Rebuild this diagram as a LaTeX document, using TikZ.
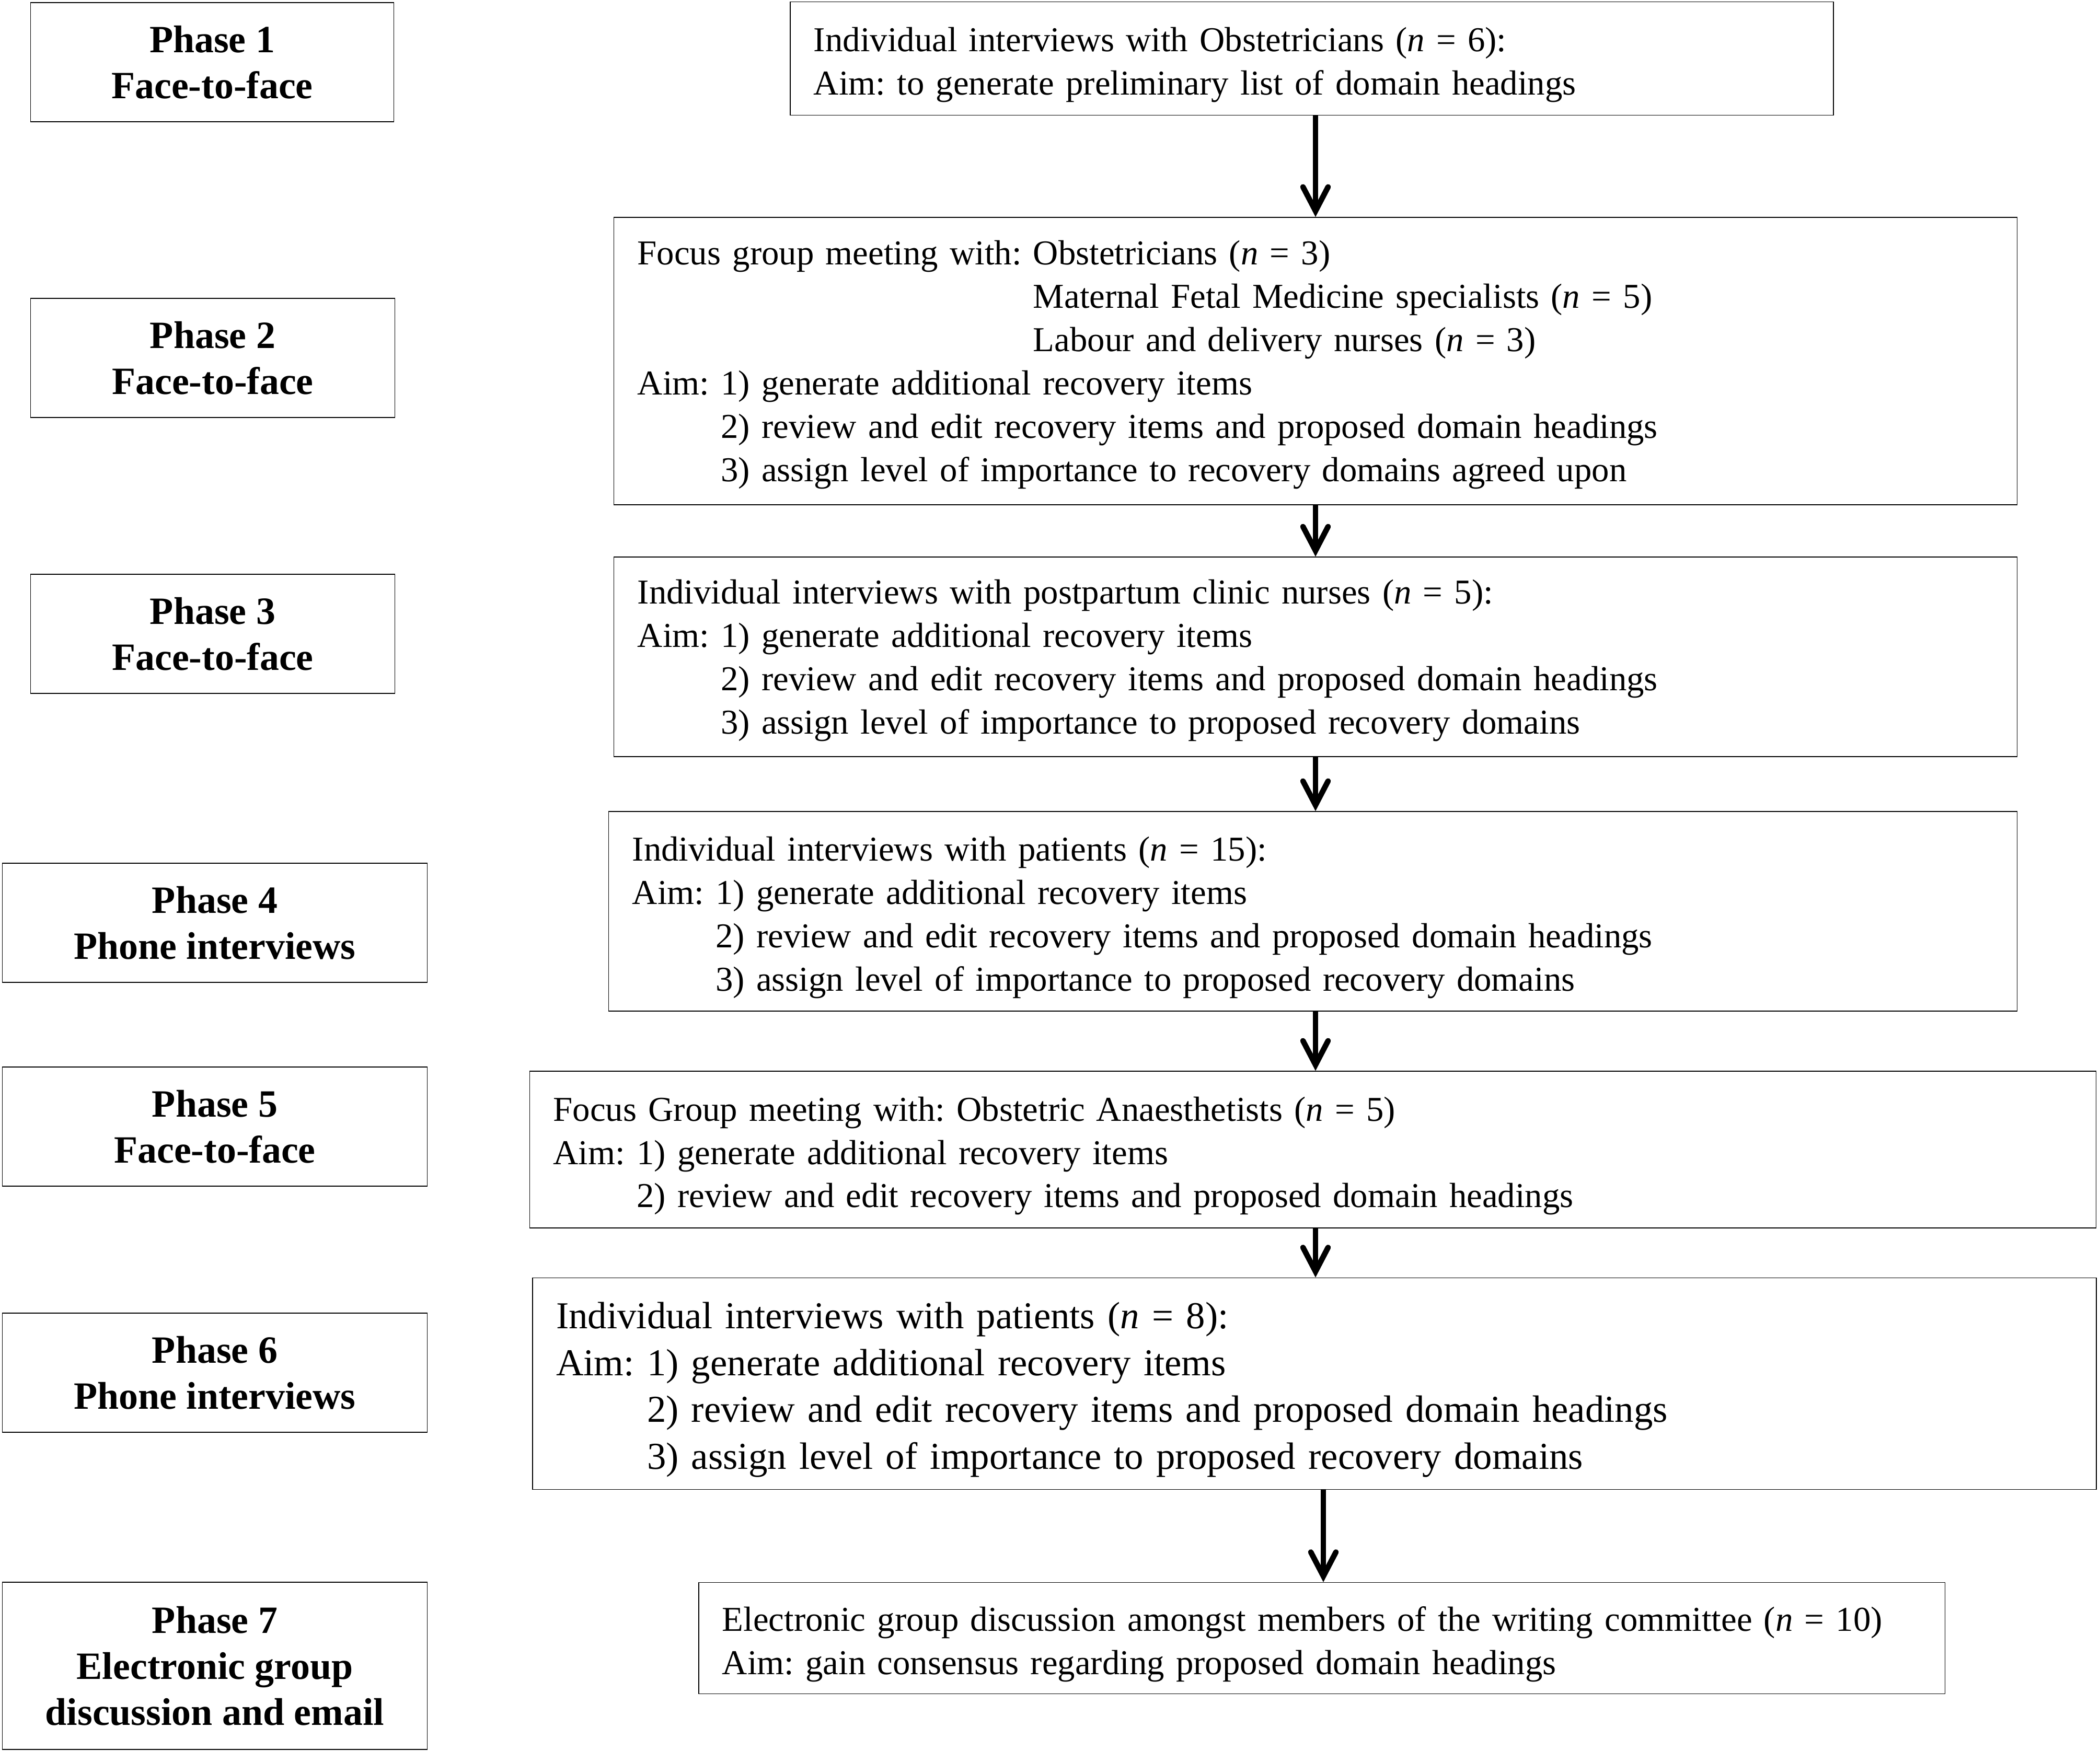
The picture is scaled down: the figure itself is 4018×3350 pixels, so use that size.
\documentclass[tikz,border=0pt]{standalone}
\usepackage{fontspec}
\setmainfont{Liberation Serif}
\frenchspacing
\usetikzlibrary{arrows.meta, positioning}
\newcommand{\aimpad}{\phantom{Aim: }}
\newcommand{\withpad}{\phantom{Focus group meeting with: }}
\tikzset{
	line width = 1.2pt,
	>={Straight Barb[length=4.6mm, width=4.8mm, line cap=round]},
	phase box/.style={
		draw,
		align=center,
		inner sep=0pt,
		font=\fontsize{21}{25}\selectfont\bfseries
	},
	task box/.style={
		draw,
		align=left,
		inner xsep=.45cm,
		inner ysep=0pt,
		text height=20pt,
		font=\fontsize{19}{23.6}\selectfont
	},
	flow/.style={
		->,
		line width=3pt
	}
}

\begin{document}
\begin{tikzpicture}[x=.01cm, y=-.01cm]
	\useasboundingbox (0,0) rectangle (4018,3350);

	% phases on the left
	\node[phase box, minimum width=6.95cm, minimum height=2.28cm] (p1) at (406,119) {Phase 1\\Face-to-face};
	\node[phase box, minimum width=6.97cm, minimum height=2.28cm] (p2) at (407,685) {Phase 2\\Face-to-face};
	\node[phase box, minimum width=6.97cm, minimum height=2.28cm] (p3) at (407,1213) {Phase 3\\Face-to-face};
	\node[phase box, minimum width=8.12cm, minimum height=2.28cm] (p4) at (411,1766) {Phase 4\\Phone interviews};
	\node[phase box, minimum width=8.12cm, minimum height=2.28cm] (p5) at (411,2156) {Phase 5\\Face-to-face};
	\node[phase box, minimum width=8.12cm, minimum height=2.28cm] (p6) at (411,2627) {Phase 6\\Phone interviews};
	\node[phase box, minimum width=8.12cm, minimum height=3.2cm] (p7) at (411,3188) {Phase 7\\Electronic group\\discussion and email};

	% what each phase did
	\node[task box, text width=19.05cm, minimum height=2.17cm] (r1) at (2510,112) {Individual interviews with Obstetricians (\textit{n} = 6):\\
		Aim: to generate preliminary list of domain headings};
	\node[task box, text width=25.93cm, minimum height=5.5cm, text height=17pt] (r2) at (2517,691) {Focus group meeting with: Obstetricians (\textit{n} = 3)\\
		\withpad Maternal Fetal Medicine specialists (\textit{n} = 5)\\
		\withpad Labour and delivery nurses (\textit{n} = 3)\\
		Aim: 1) generate additional recovery items\\
		\aimpad 2) review and edit recovery items and proposed domain headings\\
		\aimpad 3) assign level of importance to recovery domains agreed upon};
	\node[task box, text width=25.93cm, minimum height=3.82cm, text height=17pt] (r3) at (2517,1257) {Individual interviews with postpartum clinic nurses (\textit{n} = 5):\\
		Aim: 1) generate additional recovery items\\
		\aimpad 2) review and edit recovery items and proposed domain headings\\
		\aimpad 3) assign level of importance to proposed recovery domains};
	\node[task box, text width=26.03cm, minimum height=3.82cm] (r4) at (2512,1744) {Individual interviews with patients (\textit{n} = 15):\\
		Aim: 1) generate additional recovery items\\
		\aimpad 2) review and edit recovery items and proposed domain headings\\
		\aimpad 3) assign level of importance to proposed recovery domains};
	\node[task box, text width=29.05cm, minimum height=3cm] (r5) at (2512,2200) {Focus Group meeting with: Obstetric Anaesthetists (\textit{n} = 5)\\
		Aim: 1) generate additional recovery items\\
		\aimpad 2) review and edit recovery items and proposed domain headings};
	\node[task box, text width=29cm, minimum height=4.05cm, text height=21pt, font=\fontsize{20.7}{25.5}\selectfont] (r6) at (2515,2648) {Individual interviews with patients (\textit{n} = 8):\\
		Aim: 1) generate additional recovery items\\
		\aimpad 2) review and edit recovery items and proposed domain headings\\
		\aimpad 3) assign level of importance to proposed recovery domains};
	\node[task box, text width=22.93cm, minimum height=2.13cm] (r7) at (2529,3135) {Electronic group discussion amongst members of the writing committee (\textit{n} = 10)\\
		Aim: gain consensus regarding proposed domain headings};

	% arrows
	\coordinate (axis) at (2517,0);
	\coordinate (axis7) at (2532,0);
	\draw[flow] (r1.south -| axis) -- (r2.north -| axis);
	\draw[flow] (r2.south -| axis) -- (r3.north -| axis);
	\draw[flow] (r3.south -| axis) -- (r4.north -| axis);
	\draw[flow] (r4.south -| axis) -- (r5.north -| axis);
	\draw[flow] (r5.south -| axis) -- (r6.north -| axis);
	\draw[flow] (r6.south -| axis7) -- (r7.north -| axis7);
\end{tikzpicture}
\end{document}
